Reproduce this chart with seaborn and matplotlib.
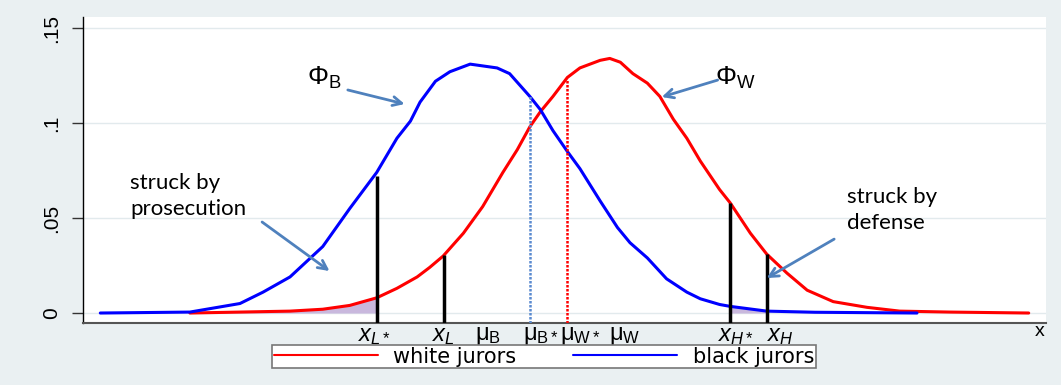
import numpy as np
import pandas as pd
import seaborn as sns
import matplotlib.pyplot as plt
from matplotlib.lines import Line2D

# curves (x on a 0-100 scale, density on y)
black_x = [1.8, 11.1, 16.3, 18.7, 21.5, 24.9, 27.7, 30.5, 32.6, 34.0, 35.0, 36.6, 38.1,
           40.2, 43.0, 44.3, 46.4, 47.5, 48.8, 50.3, 51.6, 53.7, 55.5, 56.8, 58.6, 60.6,
           62.7, 64.1, 66.1, 67.2, 71.0, 76.0, 86.6]
black_y = [0.0, 0.0005, 0.005, 0.011, 0.019, 0.035, 0.055, 0.074, 0.092, 0.101, 0.111, 0.122,
           0.127, 0.131, 0.129, 0.126, 0.114, 0.107, 0.096, 0.085, 0.076, 0.059, 0.045, 0.037,
           0.029, 0.018, 0.011, 0.0075, 0.0045, 0.0035, 0.001, 0.0004, 0.0]
white_x = [11.1, 21.5, 24.9, 27.7, 30.5, 32.6, 34.7, 36.0, 37.4, 39.5, 41.5, 43.6, 45.1,
           46.4, 47.5, 48.8, 50.3, 51.6, 53.7, 54.7, 55.8, 57.1, 58.6, 59.9, 61.3, 62.7,
           64.1, 66.1, 67.2, 69.3, 71.0, 73.1, 75.2, 77.9, 81.4, 84.8, 90.0, 98.2]
white_y = [0.0, 0.001, 0.002, 0.004, 0.008, 0.013, 0.019, 0.024, 0.030, 0.042, 0.056, 0.074,
           0.086, 0.098, 0.106, 0.114, 0.124, 0.129, 0.133, 0.134, 0.132, 0.126, 0.121, 0.114,
           0.102, 0.092, 0.080, 0.065, 0.058, 0.042, 0.031, 0.021, 0.012, 0.006, 0.003, 0.001,
           0.0005, 0.0]

# cutoffs
x_Lstar, x_L, x_Hstar, x_H = 30.5, 37.5, 67.2, 71.0
mu_Bstar, mu_Wstar = 46.4, 50.3

# labels under the axis
xlab_pos = [30.3, 37.4, 42.1, 47.5, 51.6, 56.2, 67.8, 72.4]
xlab_txt = [r'$\mathit{x}_{\mathit{L*}}$', r'$\mathit{x}_{\mathit{L}}$',
            r'$\mathrm{\mu}_{\mathrm{B}}$', r'$\mathrm{\mu}_{\mathrm{B*}}$',
            r'$\mathrm{\mu}_{\mathrm{W*}}$', r'$\mathrm{\mu}_{\mathrm{W}}$',
            r'$\mathit{x}_{\mathit{H*}}$', r'$\mathit{x}_{\mathit{H}}$']
ytick_pos = [0, 0.05, 0.1, 0.15]
ytick_txt = ['0', '.05', '.1', '.15']

df = pd.concat([
    pd.DataFrame({'x': white_x, 'y': white_y, 'group': 'white jurors'}),
    pd.DataFrame({'x': black_x, 'y': black_y, 'group': 'black jurors'}),
])

sns.set_theme(style='white')
plt.rcParams['font.family'] = ['DejaVu Sans']
plt.rcParams['text.color'] = 'black'
plt.rcParams['xtick.color'] = 'black'
plt.rcParams['ytick.color'] = 'black'
plt.rcParams['mathtext.fontset'] = 'custom'
plt.rcParams['mathtext.rm'] = 'Liberation Sans'
plt.rcParams['mathtext.it'] = 'Liberation Sans:italic'
plt.rcParams['mathtext.default'] = 'rm'

bg = '#eaf0f2'
fig = plt.figure(figsize=(10.61, 3.85), dpi=100, facecolor=bg)
ax = fig.add_axes([0.0782, 0.161, 0.9077, 0.7948])
ax.set_facecolor('white')

sns.lineplot(data=df, x='x', y='y', hue='group', sort=False, estimator=None,
             palette={'white jurors': 'red', 'black jurors': 'blue'},
             linewidth=2.2, legend=False, ax=ax)

ax.set_xlim(0, 100)
ax.set_ylim(-0.00526, 0.1558)
ymin = ax.get_ylim()[0]

# shaded tails
wx = np.array(white_x); wy = np.array(white_y)
m = wx <= x_Lstar
ax.fill_between(wx[m], 0, wy[m], color='#c9b8dd', lw=0, zorder=1)
bx = np.linspace(x_Hstar, x_H, 20)
ax.fill_between(bx, 0, np.interp(bx, black_x, black_y), color='#c9b8dd', lw=0, zorder=1)

# cutoff lines
ax.vlines(x_Lstar, ymin, np.interp(x_Lstar, black_x, black_y) - 0.002, color='black', lw=2.5, zorder=3)
for c in [x_L, x_Hstar, x_H]:
    ax.vlines(c, ymin, np.interp(c, white_x, white_y), color='black', lw=2.5, zorder=3)
ax.vlines(mu_Bstar, ymin, np.interp(mu_Bstar, black_x, black_y), color='#5b8bd0',
          lw=1.8, linestyles=(0, (1, 0.6)), zorder=3)
ax.vlines(mu_Wstar, ymin, np.interp(mu_Wstar, white_x, white_y) - 0.001, color='red',
          lw=1.8, linestyles=(0, (1, 0.6)), zorder=3)

# axes styling
ax.set_yticks(ytick_pos)
ax.set_yticklabels(ytick_txt, rotation=90, va='center', family='Liberation Sans', fontsize=15)
ax.set_xticks(xlab_pos)
ax.set_xticklabels(xlab_txt, fontsize=17)
ax.tick_params(axis='x', length=0, pad=0)
ax.tick_params(axis='y', length=8, width=1, pad=8, left=True, color='#333333')
ax.grid(axis='y', color='#e2eaed', lw=1)
ax.set_xlabel('')
ax.set_ylabel('')
for s in ['top', 'right']:
    ax.spines[s].set_visible(False)
ax.spines['left'].set_color('black')
ax.spines['left'].set_linewidth(1)
ax.spines['bottom'].set_color('#555555')
ax.spines['bottom'].set_linewidth(1.5)
ax.text(0.993, -0.027, 'x', transform=ax.transAxes, ha='center', va='center',
        fontsize=14, family='Liberation Sans')

# annotations
arrow = dict(arrowstyle='->', color='#4f81bd', lw=2, mutation_scale=16, shrinkA=0, shrinkB=0)
ax.text(25.1, 0.1237, r'$\Phi_{\rm B}$', fontsize=19, ha='center', va='center')
ax.annotate('', xy=(33.4, 0.110), xytext=(27.5, 0.1174), arrowprops=arrow)
ax.text(67.7, 0.1237, r'$\Phi_{\rm W}$', fontsize=19, ha='center', va='center')
ax.annotate('', xy=(60.1, 0.1137), xytext=(65.9, 0.1226), arrowprops=arrow)
ax.text(4.9, 0.0616, 'struck by\nprosecution', fontsize=16, family='Lato',
        ha='left', va='center', linespacing=1.35)
ax.annotate('', xy=(25.6, 0.0221), xytext=(18.6, 0.0479), arrowprops=arrow)
ax.text(79.3, 0.0542, 'struck by\ndefense', fontsize=16, family='Lato',
        ha='left', va='center', linespacing=1.35)
ax.annotate('', xy=(71.0, 0.0184), xytext=(78.0, 0.0389), arrowprops=arrow)

# legend box below the plot
handles = [Line2D([], [], color='red', lw=1.5), Line2D([], [], color='blue', lw=1.5)]
leg = fig.legend(handles, ['white jurors', 'black jurors'], ncol=2,
                 loc='upper left', bbox_to_anchor=(272 / 1061, 1 - 345 / 385),
                 borderaxespad=0, fontsize=15, handlelength=5.0, handletextpad=0.75,
                 columnspacing=2.7, borderpad=0.08, fancybox=False, framealpha=1,
                 edgecolor='#777777')
leg.get_frame().set_linewidth(1.2)

fig.savefig('out.png', dpi=100, facecolor=bg)
